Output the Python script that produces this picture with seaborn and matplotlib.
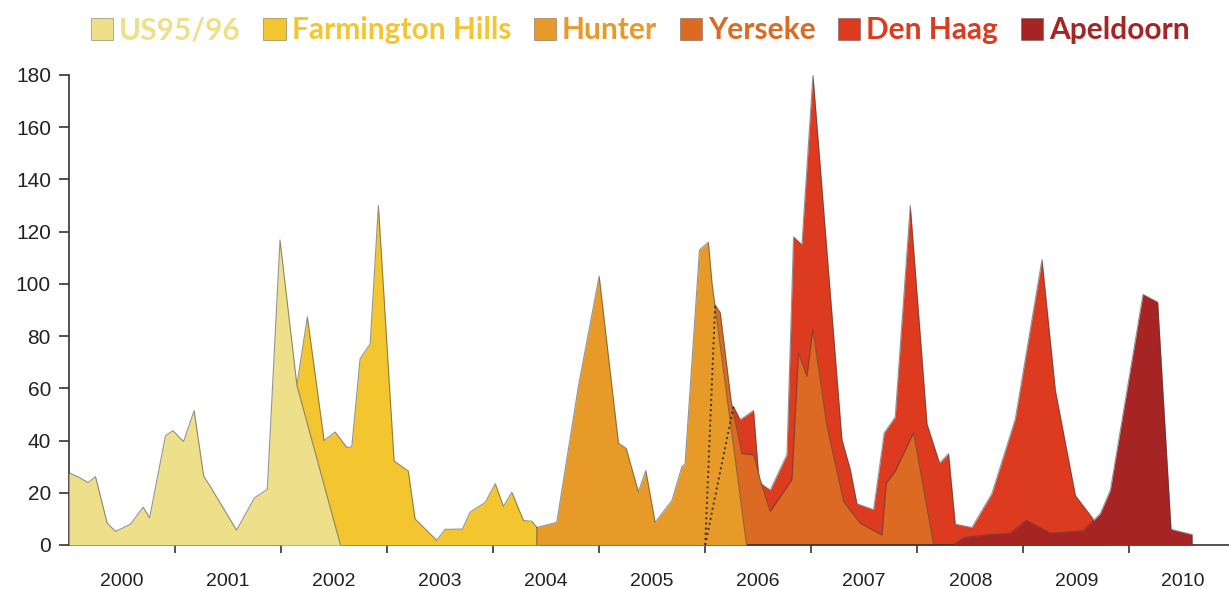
import numpy as np
import matplotlib
matplotlib.use("Agg")
import matplotlib.pyplot as plt
import seaborn as sns
from matplotlib.patches import Patch

# series: decimal year, value
us_t = [2000.0, 2000.10, 2000.18, 2000.25, 2000.36, 2000.44, 2000.58, 2000.70, 2000.76, 2000.91,
        2000.98, 2001.08, 2001.18, 2001.27, 2001.33, 2001.58, 2001.75, 2001.87, 2001.99, 2002.15, 2002.56]
us_v = [27.7, 25.8, 23.9, 26.2, 8.4, 5.2, 8.0, 14.5, 10.4, 41.9,
        43.8, 39.6, 51.5, 26.4, 22.6, 5.7, 18.1, 21.3, 116.8, 61, 0]

fh_t = [2002.0, 2002.148, 2002.248, 2002.406, 2002.509, 2002.62, 2002.667, 2002.745, 2002.84, 2002.918,
        2003.066, 2003.2, 2003.264, 2003.468, 2003.547, 2003.71, 2003.783, 2003.925, 2004.02, 2004.097,
        2004.176, 2004.286, 2004.365, 2004.418, 2004.42]
fh_v = [0, 61, 87.4, 40, 43.3, 37.4, 37.6, 71.3, 77, 130,
        32.2, 28.3, 10, 1.8, 6, 6.1, 12.6, 16.3, 23.5, 14.8,
        20.2, 9.4, 9.1, 6.5, 0]

hu_t = [2004.41, 2004.412, 2004.6, 2004.805, 2005.0, 2005.182, 2005.255, 2005.37, 2005.44, 2005.528,
        2005.686, 2005.78, 2005.81, 2005.946, 2006.03, 2006.065, 2006.39]
hu_v = [0, 6.7, 8.7, 61, 103, 39, 37, 20.4, 28.5, 8.7,
        17, 30, 31, 113, 116, 100, 0]

ye_t = [2006.0, 2006.094, 2006.142, 2006.245, 2006.346, 2006.456, 2006.519, 2006.613, 2006.818, 2006.880,
        2006.959, 2007.016, 2007.148, 2007.305, 2007.462, 2007.667, 2007.708, 2007.792, 2007.965, 2008.154]
ye_v = [0, 92, 89, 55, 35, 34.5, 25, 12.8, 25, 73.6,
        64.5, 82.7, 45.5, 16.7, 8.3, 3.8, 23.7, 28.2, 43, 0]

dh_t = [2006.0, 2006.267, 2006.330, 2006.456, 2006.509, 2006.613, 2006.771, 2006.833, 2006.912, 2007.016,
        2007.289, 2007.368, 2007.431, 2007.588, 2007.689, 2007.792, 2007.934, 2008.092, 2008.210, 2008.295,
        2008.358, 2008.516, 2008.704, 2008.925, 2009.176, 2009.302, 2009.491, 2009.648, 2009.774]
dh_v = [0, 53, 48, 51.5, 24, 21, 34.6, 118, 115, 180,
        40.5, 29, 15.8, 13.5, 43, 49, 130, 46.3, 31.4, 35,
        8, 6.7, 19.7, 48.3, 109.3, 59.3, 19, 10.6, 0]

ap_t = [2008.327, 2008.453, 2008.689, 2008.877, 2009.028, 2009.255, 2009.566, 2009.726, 2009.821, 2010.129,
        2010.267, 2010.393, 2010.591, 2010.592]
ap_v = [0, 3, 4, 4.5, 9.5, 4.5, 5.5, 12, 21, 96,
        93, 6, 4, 0]

names = ["US95/96", "Farmington Hills", "Hunter", "Yerseke", "Den Haag", "Apeldoorn"]
colors = ["#EEDF8B", "#F3C630", "#E89A28", "#DC6A22", "#DC3B20", "#A62424"]
years = [str(y) for y in range(2000, 2011)]

sns.set_theme(style="white")
plt.rcParams['font.family'] = ['Liberation Sans', 'DejaVu Sans']

fig = plt.figure(figsize=(12.29, 5.89), dpi=100)
ax = fig.add_axes([69 / 1229, 44 / 589, 1 - 69 / 1229, 470 / 589])

edge = (0.25, 0.25, 0.25, 0.55)
# back to front
layers = [
    (dh_t, dh_v, colors[4], 1),
    (ye_t, ye_v, colors[3], 2),
    (ap_t, ap_v, colors[5], 3),
    (fh_t, fh_v, colors[1], 4),
    (hu_t, hu_v, colors[2], 5),
    (us_t, us_v, colors[0], 6),
]
for t, v, c, z in layers:
    ax.fill_between(t, v, 0, color=c, lw=0, zorder=z)
    sns.lineplot(x=t, y=v, ax=ax, color=edge, lw=0.8, sort=False, estimator=None, zorder=z + 0.1)

# hidden starts of Yerseke and Den Haag behind Hunter
for t, v in [(ye_t, ye_v), (dh_t, dh_v)]:
    sns.lineplot(x=t[:2], y=v[:2], ax=ax, color="#333333", lw=1.4, linestyle=":",
                 sort=False, estimator=None, zorder=10)

ax.set_xlim(2000, 2010.94)
ax.set_ylim(0, 180)
ax.set_xlabel("")
ax.set_ylabel("")
for s in ["top", "right"]:
    ax.spines[s].set_visible(False)
for s in ["left", "bottom"]:
    ax.spines[s].set_color("#333333")
    ax.spines[s].set_linewidth(1.2)

ax.set_xticks(range(2001, 2011))
ax.set_xticklabels([])
ax.set_xticks(np.arange(2000.5, 2011, 1.0), minor=True)
ax.set_xticklabels(years, minor=True)
ax.tick_params(axis="x", which="major", bottom=True, length=6, width=1.2, color="#333333", direction="out")
ax.tick_params(axis="x", which="minor", bottom=True, length=0, pad=20, labelsize=14, labelcolor="#222222")
ax.set_yticks(range(0, 181, 20))
ax.tick_params(axis="y", left=True, length=7, width=1.2, color="#333333", direction="out",
               pad=6, labelsize=15, labelcolor="#222222")

handles = [Patch(facecolor=c, edgecolor=(0.3, 0.3, 0.3, 0.5), lw=0.6) for c in colors]
leg = fig.legend(handles, names, loc="upper center", bbox_to_anchor=(0.521, 1.018), ncol=6, frameon=False,
                 prop={"family": "Lato", "weight": "bold", "size": 21.5},
                 handlelength=0.75, handleheight=0.75, handletextpad=0.2, columnspacing=0.75)
for txt, c in zip(leg.get_texts(), colors):
    txt.set_color(c)

fig.savefig("out.png", dpi=100)
